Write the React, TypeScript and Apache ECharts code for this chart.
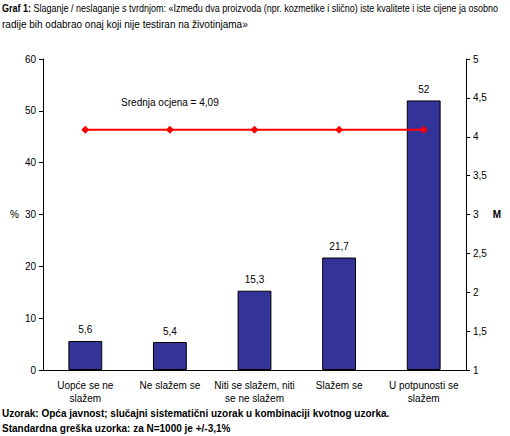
import React, { useEffect, useRef } from "react";
import * as echarts from "echarts";

const categories = [
  "Uopće se ne\nslažem",
  "Ne slažem se",
  "Niti se slažem, niti\nse ne slažem",
  "Slažem se",
  "U potpunosti se\nslažem",
];
const percentValues = [5.6, 5.4, 15.3, 21.7, 52];
const meanValues = [4.09, 4.09, 4.09, 4.09, 4.09];
const meanLabel = "Srednja ocjena = 4,09";
const titleBold = "Graf 1:";
const titleLine1 =
  " Slaganje / neslaganje s tvrdnjom: «Između dva proizvoda (npr. kozmetike i slično) iste kvalitete i iste cijene ja osobno";
const titleLine2 = "radije bih odabrao onaj koji nije testiran na životinjama»";
const footer1 = "Uzorak: Opća javnost; slučajni sistematični uzorak u kombinaciji kvotnog uzorka.";
const footer2 = "Standardna greška uzorka: za N=1000 je +/-3,1%";

const fmt = (v: number) => String(v).replace(".", ",");
const FONT = "'Liberation Sans', Arial, sans-serif";

export default function App() {
  const ref = useRef<HTMLDivElement>(null);
  useEffect(() => {
    document.body.style.margin = "0";
    if (!ref.current) return;
    const chart = echarts.init(ref.current, null, { renderer: "svg" });
    chart.setOption({
      animation: false,
      backgroundColor: "#fff",
      textStyle: { fontFamily: FONT },
      grid: { left: 43, right: 44, top: 59, bottom: 66 },
      xAxis: {
        type: "category",
        data: categories,
        axisLine: { lineStyle: { color: "#000" } },
        axisTick: { lineStyle: { color: "#000" }, length: 4 },
        axisLabel: { color: "#000", fontSize: 10, lineHeight: 13, margin: 9, interval: 0 },
      },
      yAxis: [
        {
          type: "value",
          min: 0,
          max: 60,
          interval: 10,
          name: "%",
          nameLocation: "middle",
          nameGap: 22,
          nameRotate: 0,
          nameTextStyle: { color: "#000", fontSize: 10 },
          axisLine: { show: true, lineStyle: { color: "#000" } },
          axisTick: { show: true, lineStyle: { color: "#000" }, length: 4 },
          axisLabel: { color: "#000", fontSize: 10, margin: 7 },
          splitLine: { show: false },
        },
        {
          type: "value",
          min: 1,
          max: 5,
          interval: 0.5,
          name: "M",
          nameLocation: "middle",
          nameGap: 23,
          nameRotate: 0,
          nameTextStyle: { color: "#000", fontSize: 10, fontWeight: "bold" },
          axisLine: { show: true, lineStyle: { color: "#000" } },
          axisTick: { show: true, lineStyle: { color: "#000" }, length: 4 },
          axisLabel: { color: "#000", fontSize: 10, margin: 7, formatter: (v: number) => fmt(v) },
          splitLine: { show: false },
        },
      ],
      series: [
        {
          type: "bar",
          data: percentValues,
          barWidth: "40%",
          itemStyle: { color: "#333399", borderColor: "#000", borderWidth: 1 },
          label: {
            show: true,
            position: "top",
            color: "#000",
            fontSize: 10,
            distance: 6,
            formatter: (p: any) => fmt(p.value),
          },
        },
        {
          type: "line",
          yAxisIndex: 1,
          data: meanValues.map((v, i) =>
            i === 1
              ? {
                  value: v,
                  label: {
                    show: true,
                    position: "top",
                    distance: 18,
                    color: "#000",
                    fontSize: 10,
                    formatter: () => meanLabel,
                  },
                }
              : v
          ),
          symbol: "diamond",
          symbolSize: 8,
          lineStyle: { color: "#ff0000", width: 2 },
          itemStyle: { color: "#ff0000" },
        },
      ],
      graphic: [
        {
          type: "text",
          x: 2,
          y: 3,
          scaleX: 0.9,
          style: {
            text: `{b|${titleBold}}{n|${titleLine1}}`,
            rich: {
              b: { fontWeight: "bold", fontSize: 10, fontFamily: FONT, fill: "#000" },
              n: { fontSize: 10, fontFamily: FONT, fill: "#000" },
            },
          },
        },
        {
          type: "text",
          x: 2,
          y: 19,
          style: { text: titleLine2, fontSize: 10, fontFamily: FONT, fill: "#000" },
        },
        {
          type: "text",
          x: 2,
          y: 408,
          style: { text: footer1, fontSize: 10, fontWeight: "bold", fontFamily: FONT, fill: "#000" },
        },
        {
          type: "text",
          x: 2,
          y: 423,
          style: { text: footer2, fontSize: 10, fontWeight: "bold", fontFamily: FONT, fill: "#000" },
        },
      ],
    });
    return () => chart.dispose();
  }, []);
  return <div ref={ref} style={{ width: 510, height: 436 }} />;
}
